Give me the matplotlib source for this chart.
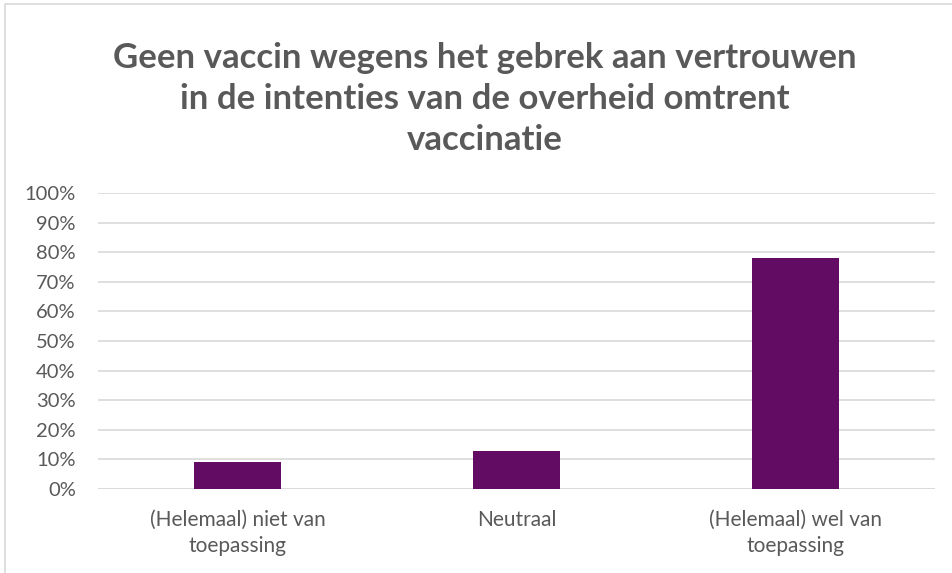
import matplotlib.pyplot as plt
from matplotlib.patches import Rectangle

# data
categories = ["(Helemaal) niet van\ntoepassing", "Neutraal", "(Helemaal) wel van\ntoepassing"]
values = [9, 13, 78]
yticks = list(range(0, 101, 10))
title = "Geen vaccin wegens het gebrek aan vertrouwen\nin de intenties van de overheid omtrent\nvaccinatie"

grey = "#595959"
plt.rcParams['font.family'] = ['Lato', 'DejaVu Sans']

fig = plt.figure(figsize=(9.52, 5.73), dpi=100)
# chart border (cut off at right/bottom)
fig.patches.append(Rectangle((5 / 952, -0.1), 1.2, 1 - 4 / 573 + 0.1, transform=fig.transFigure,
                             fill=False, edgecolor="#d9d9d9", linewidth=1.2))

ax = fig.add_axes([98 / 952, (573 - 489) / 573, (935 - 98) / 952, (489 - 193) / 573])
x = range(len(categories))
ax.bar(x, values, width=0.31, color="#620d63", zorder=3)
ax.set_xlim(-0.5, 2.5)
ax.set_ylim(0, 100)
ax.set_yticks(yticks)
ax.set_yticklabels([f"{t}%" for t in yticks], color=grey, fontsize=14.5)
ax.set_xticks(list(x))
ax.set_xticklabels(categories, color=grey, fontsize=15, linespacing=1.4)
ax.tick_params(axis='y', length=0, pad=16)
ax.tick_params(axis='x', length=0, pad=15)
ax.yaxis.grid(True, color="#d9d9d9", linewidth=1.2, zorder=0)
for s in ax.spines.values():
    s.set_visible(False)
ax.axhline(0, color="#d9d9d9", linewidth=1.2, zorder=1)

fig.text(485 / 952, 1 - 99 / 573, title, ha='center', va='center', fontsize=25,
         fontweight='bold', color=grey, linespacing=1.35)

fig.savefig("out.png", dpi=100)
